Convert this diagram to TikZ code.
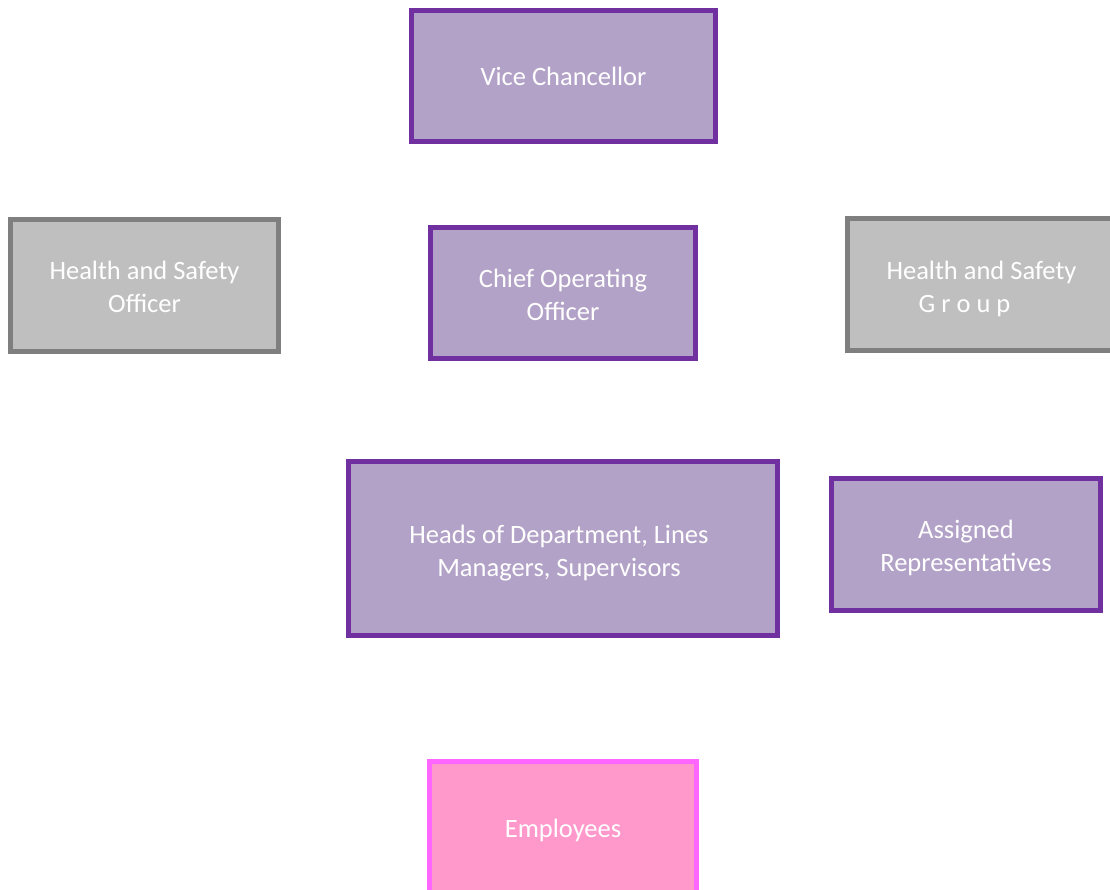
\documentclass[tikz,border=0pt]{standalone}
\usepackage{fontspec}
\setmainfont{Carlito}
\definecolor{pfill}{HTML}{B3A2C7}
\definecolor{pline}{HTML}{7030A0}
\definecolor{gfill}{HTML}{BFBFBF}
\definecolor{gline}{HTML}{7F7F7F}
\definecolor{kfill}{HTML}{FF99CC}
\definecolor{kline}{HTML}{FF66FF}
\tikzset{
  box/.style={rectangle, line width=5pt, text=white, align=center, inner sep=0pt,
    font=\fontsize{26.5}{33}\selectfont},
  purplebox/.style={box, draw=pline, fill=pfill},
  greybox/.style={box, draw=gline, fill=gfill},
  pinkbox/.style={box, draw=kline, fill=kfill},
}
\begin{document}
\begin{tikzpicture}[x=1pt,y=-1pt]
\useasboundingbox (0,0) rectangle (1110,890);
\clip (0,0) rectangle (1110,890);
\node[purplebox, minimum width=304pt, minimum height=131pt] (vc) at (563.5,76) {\rule{0pt}{20pt}Vice Chancellor};
\node[greybox, minimum width=268pt, minimum height=132pt] (hso) at (144.5,285.5) {\rule{0pt}{22pt}Health and Safety\\Officer};
\node[purplebox, minimum width=265pt, minimum height=131pt] (coo) at (563,293) {\rule{0pt}{23pt}Chief Operating\\Officer};
\node[greybox, minimum width=268pt, minimum height=132pt] (hsg) at (981.5,284.5) {\rule{0pt}{27pt}Health and Safety\\G r o u p\hspace*{34pt}};
\node[purplebox, minimum width=429pt, minimum height=174pt] (hod) at (563,548.5) {\rule{0pt}{28pt}Heads of Department, Lines\hspace*{8pt}\\Managers, Supervisors\hspace*{8pt}};
\node[purplebox, minimum width=269pt, minimum height=132pt] (ar) at (966,544.5) {\rule{0pt}{26pt}Assigned\\Representatives};
\node[pinkbox, minimum width=267pt, minimum height=131pt] (emp) at (563,827) {\rule{0pt}{26pt}Employees};
\end{tikzpicture}
\end{document}
